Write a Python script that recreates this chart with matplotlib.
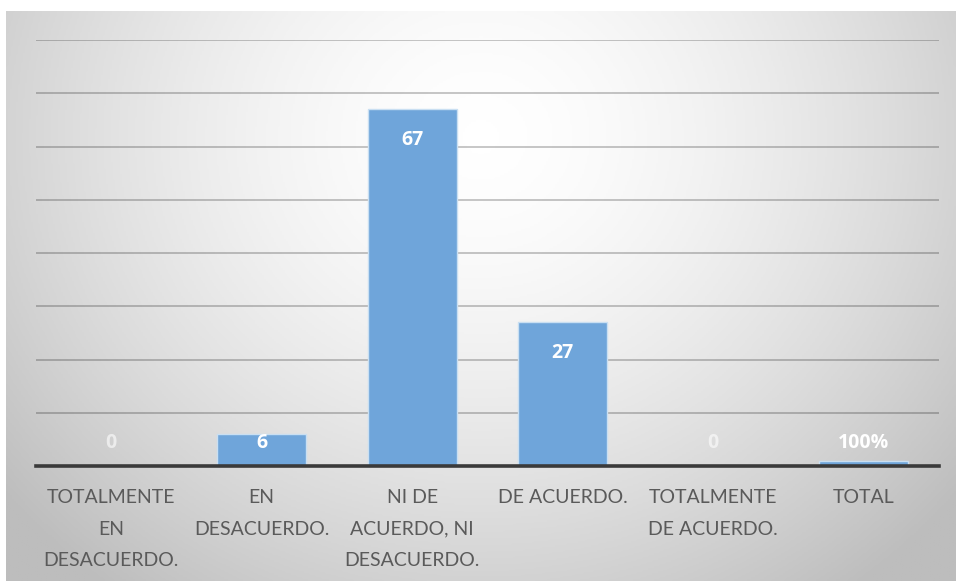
import numpy as np
import matplotlib.pyplot as plt
from matplotlib.colors import LinearSegmentedColormap

# Survey answers (count per option) and the total bar shown as a fraction
categories = ['TOTALMENTE\nEN\nDESACUERDO.', 'EN\nDESACUERDO.', 'NI DE\nACUERDO, NI\nDESACUERDO.',
              'DE ACUERDO.', 'TOTALMENTE\nDE ACUERDO.', 'TOTAL']
values = [0, 6, 67, 27, 0, 1.0]
value_labels = ['0', '6', '67', '27', '0', '100%']

fig = plt.figure(figsize=(9.56, 5.81), dpi=100)
fig.patch.set_facecolor('white')

# radial grey gradient behind the chart
bg = fig.add_axes([6 / 956, 0, 1 - 6 / 956, 1 - 11 / 581])
bg.set_axis_off()
yy, xx = np.mgrid[0:1:300j, 0:1:500j]
d = np.sqrt(((xx - 0.5) / 0.62) ** 2 + ((yy - 0.22) / 0.95) ** 2)
shade = np.clip(1.0 - 0.24 * d ** 1.6, 0.74, 1.0)
grey = LinearSegmentedColormap.from_list('g', ['#bdbdbd', '#ffffff'])
bg.imshow(shade, cmap=grey, vmin=0.74, vmax=1.0, aspect='auto', extent=[0, 1, 1, 0])
bg.set_xlim(0, 1)
bg.set_ylim(1, 0)

ax = fig.add_axes([36 / 956, 1 - 466 / 581, (939 - 36) / 956, (466 - 40) / 581])
ax.patch.set_alpha(0)

x = np.arange(len(categories))
ax.bar(x, values, width=0.59, color='#6fa5da', edgecolor='#c9dff2', linewidth=1.0, zorder=3)

ax.set_ylim(0, 80)
ax.set_xlim(-0.5, len(categories) - 0.5)
ax.set_yticks(np.arange(0, 81, 10))
# semi-transparent grid so it darkens with the background
ax.yaxis.grid(True, color='black', alpha=0.22, linewidth=1.4, zorder=0)
ax.tick_params(axis='y', left=False, labelleft=False)
ax.tick_params(axis='x', bottom=False, pad=13)
for s in ['top', 'right', 'left']:
    ax.spines[s].set_visible(False)
ax.spines['bottom'].set_color('#3a3a3a')
ax.spines['bottom'].set_linewidth(2.6)
ax.spines['bottom'].set_zorder(5)

ax.set_xticks(x)
ax.set_xticklabels(categories, fontsize=14, color='#5a5a5a', family=['Lato', 'DejaVu Sans'],
                   linespacing=2.05, va='top')

# value labels sit just inside the top of each bar, but never below a minimum height
for xi, v, lab in zip(x, values, value_labels):
    ypos = max(v, 10.1)
    ax.annotate(lab, (xi, ypos), xytext=(0, -22), textcoords='offset points', ha='center', va='center',
                fontsize=14, fontweight='bold', color='white', alpha=0.6 if v == 0 else 1.0,
                family=['Open Sans', 'DejaVu Sans'], zorder=6, annotation_clip=False)

fig.savefig('out.png', dpi=100)
